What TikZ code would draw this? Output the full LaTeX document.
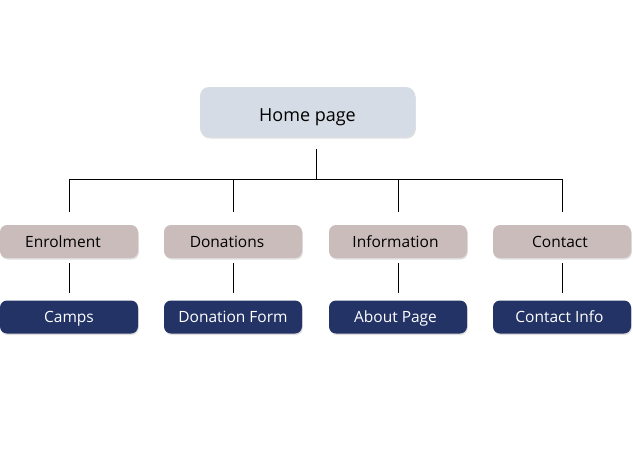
\documentclass[tikz,border=0pt]{standalone}
\usepackage{fontspec}
\setmainfont{Open Sans}
\usetikzlibrary{positioning,shadows}

\definecolor{homefill}{HTML}{D6DCE5}
\definecolor{secfill}{HTML}{C9BCBB}
\definecolor{pagefill}{HTML}{233366}

\tikzset{
  box/.style={rounded corners=7pt, minimum width=138pt, minimum height=33pt,
              inner sep=0pt, text height=11pt, text depth=0pt,
              font=\fontsize{15.5}{17}\selectfont,
              drop shadow={shadow xshift=0.8pt, shadow yshift=-1.5pt, opacity=0.25}},
  homebox/.style={box, fill=homefill, minimum width=215pt, minimum height=50pt,
                  rounded corners=9pt, text height=13pt, text depth=0pt,
                  font=\fontsize{18}{20}\selectfont},
  secbox/.style={box, fill=secfill},
  pagebox/.style={box, fill=pagefill, text=white},
  link/.style={draw=black, line width=0.8pt}
}

\begin{document}
\begin{tikzpicture}[x=1pt, y=-1pt]
        \useasboundingbox (0,0) rectangle (633,461);

        \node[homebox](home) at (307.5, 112) {\raisebox{-2.5pt}{Home page}};

        \node[secbox](enrol) at ( 69, 241.5) {Enrolment\hspace*{12pt}};
        \node[secbox](donat) at (233, 241.5) {Donations\hspace*{12pt}};
        \node[secbox](info)  at (398, 241.5) {Information\hspace*{5pt}};
        \node[secbox](cont)  at (562, 241.5) {Contact\hspace*{4pt}};

        \node[pagebox](camps) at ( 69, 317) {Camps};
        \node[pagebox](form)  at (233, 317) {Donation Form};
        \node[pagebox](about) at (398, 317) {About Page\hspace*{5pt}};
        \node[pagebox](coinf) at (562, 317) {Contact Info\hspace*{5pt}};

        \coordinate(bus) at (316, 179);

        % tree lines
        \draw[link, shorten <=12pt] ([xshift=8.5pt]home.south) -- (bus);
        \draw[link] (enrol.north |- bus) -- (cont.north |- bus);
        \draw[link, shorten >=13pt] (enrol.north |- bus) -- (enrol.north);
        \draw[link, shorten >=13pt] (donat.north |- bus) -- (donat.north);
        \draw[link, shorten >=13pt] (info.north |- bus)  -- (info.north);
        \draw[link, shorten >=13pt] (cont.north |- bus)  -- (cont.north);

        \draw[link, shorten <=5pt, shorten >=7pt] (enrol) -- (camps);
        \draw[link, shorten <=5pt, shorten >=7pt] (donat) -- (form);
        \draw[link, shorten <=5pt, shorten >=7pt] (info)  -- (about);
        \draw[link, shorten <=5pt, shorten >=7pt] (cont)  -- (coinf);
\end{tikzpicture}
\end{document}
